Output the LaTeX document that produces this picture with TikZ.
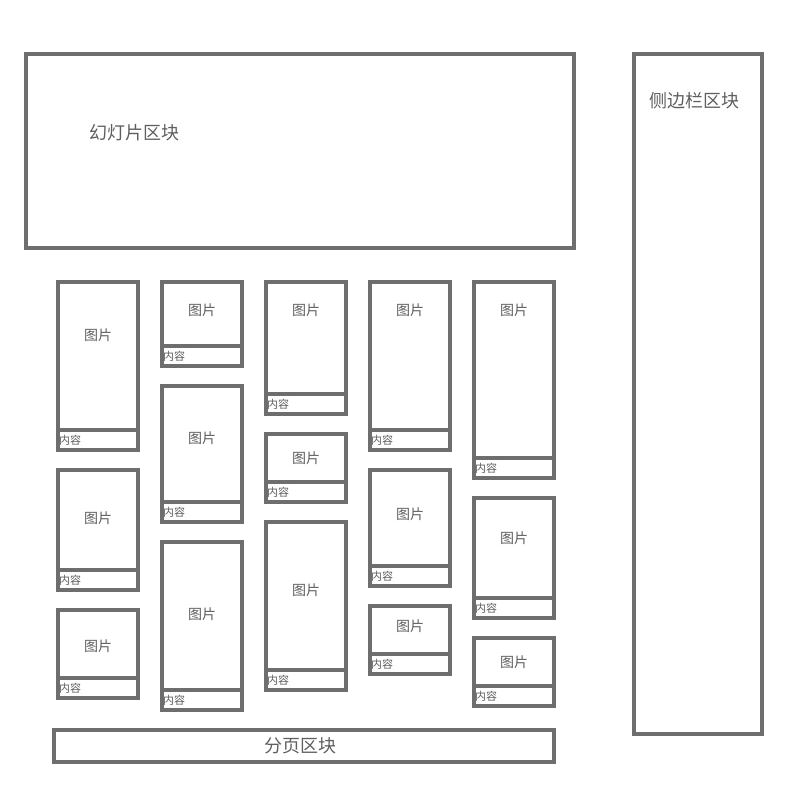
\documentclass[tikz,border=0pt]{standalone}
\usepackage{fontspec}
\setmainfont{Noto Sans CJK SC}
\usepackage{tikz}

\definecolor{linegray}{HTML}{6E6E6E}
\definecolor{textgray}{HTML}{5E5E5E}

\begin{document}
\begin{tikzpicture}[x=1pt,y=-1pt, inner sep=0pt,
  frame/.style={draw=linegray, line width=4pt},
  blocklabel/.style={text=textgray, font=\fontsize{18}{18}\selectfont},
  piclabel/.style={text=textgray, font=\fontsize{14}{14}\selectfont},
  textlabel/.style={text=textgray, font=\fontsize{11}{11}\selectfont, anchor=west}]
\useasboundingbox (0,0) rectangle (800,800);
% page blocks
\draw[frame] (26,54) rectangle (574,248);
\node (slider) at (89,133) [blocklabel, anchor=west] {幻灯片区块};
\draw[frame] (634,54) rectangle (762,734);
\node (sidebar) at (649,101) [blocklabel, anchor=west] {侧边栏区块};
\draw[frame] (54,730) rectangle (554,762);
\node (pager) at (300,746) [blocklabel] {分页区块};
% cards: column centre / top / divider / bottom / label height
\foreach \x/\t/\d/\b/\l [count=\n] in {
    98/282/430/450/335, 98/470/570/590/518, 98/610/678/698/646,
    202/282/346/366/310, 202/386/502/522/438, 202/542/690/710/614,
    306/282/394/414/310, 306/434/482/502/458, 306/522/670/690/590,
    410/282/430/450/310, 410/470/566/586/514, 410/606/654/674/626,
    514/282/458/478/310, 514/498/598/618/538, 514/638/686/706/662}
{
  \draw[frame] (\x-40,\t) rectangle (\x+40,\b);
  \draw[frame] (\x-40,\d) -- (\x+40,\d);
  \node (pic\n) at (\x,\l) [piclabel] {图片};
  \node (txt\n) at (\x-39,{(\d+\b)/2}) [textlabel] {内容};
}
\end{tikzpicture}
\end{document}
